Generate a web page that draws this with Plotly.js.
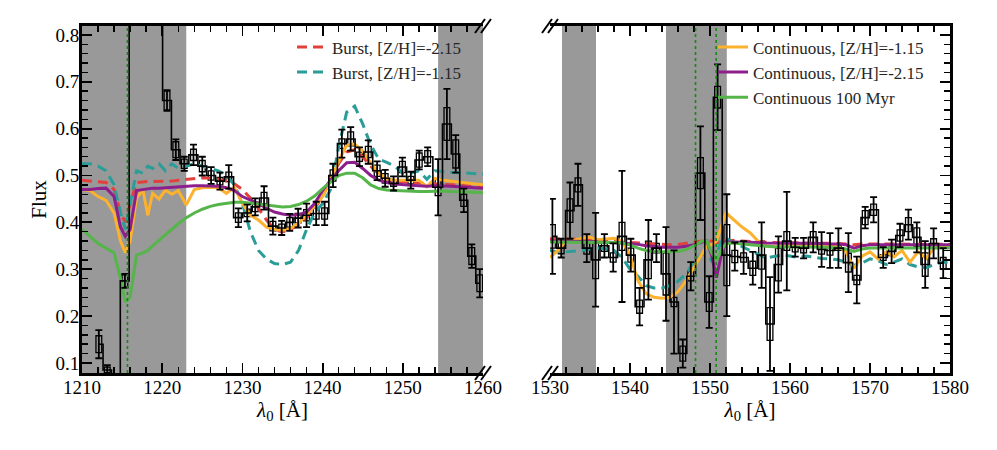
<!DOCTYPE html>
<html>
<head>
<meta charset="utf-8">
<script src="https://cdn.plot.ly/plotly-3.0.1.min.js"></script>
<style>html,body{margin:0;padding:0;background:#fff;}#chart{width:997px;height:450px;}</style>
</head>
<body>
<div id="chart"></div>
<script>
// ---------- Left panel (Lyman-alpha region) ----------
const leftWave = [1212.1,1213.15,1214.2,1215.35,1216.4,1217.45,1218.5,1219.5,1220.6,1221.7,1222.75,1223.9,1225.0,1226.1,1227.2,1228.3,1229.5,1230.6,1231.6,1232.7,1233.8,1234.9,1235.9,1236.95,1238.0,1239.2,1240.25,1241.3,1242.4,1243.5,1244.6,1245.7,1246.8,1247.8,1248.85,1249.95,1251.0,1252.05,1253.1,1254.4,1255.5,1256.6,1257.6,1258.6,1259.6];
const leftFlux = [0.14,0.085,0.06,0.275,0.95,1.05,1.0,0.9,0.66,0.555,0.525,0.544,0.52,0.50,0.488,0.497,0.41,0.42,0.433,0.452,0.392,0.388,0.40,0.409,0.415,0.419,0.419,0.50,0.568,0.578,0.54,0.55,0.51,0.494,0.483,0.518,0.49,0.533,0.54,0.475,0.61,0.546,0.447,0.328,0.27];
const leftErr  = [0.03,0.01,0.01,0.015,0,0,0,0,0.022,0.022,0.015,0.022,0.02,0.018,0.018,0.025,0.02,0.018,0.018,0.025,0.018,0.015,0.018,0.02,0.025,0.025,0.025,0.025,0.03,0.025,0.02,0.025,0.02,0.018,0.015,0.02,0.018,0.02,0.02,0.06,0.075,0.04,0.025,0.025,0.03];
const leftBox  = [0.018,0.006,0.006,0.013,0,0,0,0,0.02,0.017,0.01,0.012,0.012,0.01,0.008,0.01,0.01,0.008,0.01,0.012,0.01,0.008,0.01,0.01,0.012,0.012,0.012,0.012,0.01,0.015,0.01,0.012,0.012,0.01,0.006,0.012,0.008,0.015,0.013,0.018,0.035,0.03,0.013,0.018,0.018];

const leftModelWave = [1210,1211,1212,1213,1214,1214.8,1215.4,1216,1216.8,1217.6,1218.2,1218.8,1219.6,1220.4,1221.2,1222,1223,1224,1225,1226,1227,1228,1229,1230,1231,1232,1233,1234,1235,1236,1237,1238,1239,1240,1241,1242,1243,1244,1245,1246,1247,1248,1249,1250,1251,1252,1253,1254,1255,1256,1257,1258,1259,1260];
const leftBurstLow  = [0.49,0.488,0.487,0.485,0.47,0.42,0.40,0.44,0.485,0.487,0.487,0.487,0.487,0.488,0.488,0.49,0.492,0.494,0.495,0.494,0.492,0.488,0.482,0.47,0.452,0.43,0.405,0.385,0.38,0.385,0.395,0.41,0.43,0.455,0.49,0.525,0.55,0.555,0.54,0.52,0.503,0.492,0.488,0.486,0.485,0.484,0.483,0.482,0.481,0.48,0.479,0.478,0.477,0.476];
const leftBurstHigh = [0.525,0.525,0.52,0.51,0.48,0.42,0.385,0.44,0.51,0.505,0.52,0.515,0.525,0.51,0.525,0.515,0.52,0.525,0.52,0.515,0.51,0.50,0.48,0.44,0.38,0.34,0.322,0.312,0.31,0.315,0.34,0.385,0.42,0.44,0.47,0.56,0.635,0.648,0.61,0.565,0.535,0.528,0.52,0.505,0.505,0.51,0.492,0.51,0.508,0.507,0.506,0.505,0.504,0.503];
const leftContHigh  = [0.47,0.468,0.455,0.447,0.42,0.36,0.335,0.36,0.452,0.469,0.415,0.462,0.45,0.469,0.46,0.468,0.437,0.47,0.474,0.475,0.474,0.462,0.475,0.44,0.415,0.405,0.39,0.385,0.383,0.387,0.398,0.415,0.435,0.455,0.49,0.53,0.565,0.567,0.552,0.527,0.505,0.493,0.49,0.49,0.49,0.49,0.476,0.494,0.49,0.488,0.486,0.484,0.482,0.48];
const leftContLow   = [0.47,0.47,0.472,0.473,0.455,0.39,0.37,0.385,0.468,0.47,0.472,0.473,0.473,0.474,0.475,0.476,0.477,0.478,0.478,0.478,0.477,0.474,0.468,0.455,0.448,0.44,0.43,0.422,0.418,0.415,0.416,0.422,0.44,0.468,0.49,0.51,0.527,0.528,0.515,0.50,0.49,0.485,0.482,0.48,0.479,0.478,0.477,0.478,0.478,0.477,0.476,0.475,0.474,0.473];
const leftCont100   = [0.385,0.37,0.355,0.345,0.335,0.28,0.23,0.24,0.33,0.335,0.34,0.35,0.362,0.372,0.385,0.397,0.41,0.42,0.428,0.434,0.438,0.441,0.443,0.443,0.441,0.438,0.436,0.434,0.433,0.434,0.438,0.445,0.456,0.472,0.487,0.50,0.505,0.505,0.495,0.48,0.472,0.469,0.468,0.467,0.467,0.466,0.466,0.467,0.467,0.466,0.466,0.465,0.464,0.463];

// ---------- Right panel (C IV region) ----------
const rightWave = [1530.3,1531.4,1532.5,1533.5,1534.6,1535.7,1536.8,1537.9,1539.0,1540.1,1541.2,1542.3,1543.3,1544.5,1545.5,1546.6,1547.6,1548.8,1549.9,1550.95,1552.1,1553.1,1554.2,1555.35,1556.45,1557.5,1558.55,1559.6,1560.65,1561.7,1562.9,1563.95,1565.0,1566.05,1567.3,1568.35,1569.4,1570.45,1571.65,1572.7,1573.75,1574.8,1575.85,1576.9,1577.95,1579.15];
const rightFlux = [0.37,0.345,0.425,0.48,0.345,0.32,0.35,0.325,0.37,0.33,0.22,0.32,0.345,0.29,0.23,0.12,0.285,0.505,0.23,0.667,0.33,0.327,0.325,0.302,0.33,0.183,0.31,0.36,0.347,0.345,0.368,0.342,0.34,0.345,0.314,0.277,0.41,0.427,0.325,0.338,0.372,0.395,0.368,0.31,0.355,0.313];
const rightErr  = [0.08,0.02,0.06,0.045,0.03,0.1,0.025,0.03,0.14,0.035,0.04,0.085,0.03,0.1,0.11,0.03,0.03,0.1,0.055,0.07,0.13,0.03,0.035,0.035,0.07,0.1,0.06,0.105,0.02,0.022,0.032,0.037,0.037,0.042,0.063,0.05,0.023,0.027,0.022,0.025,0.025,0.032,0.032,0.05,0.032,0.032];
const rightBox  = [0.025,0.012,0.025,0.015,0.013,0.04,0.012,0.01,0.03,0.015,0.014,0.04,0.01,0.045,0.01,0.016,0.01,0.033,0.02,0.023,0.065,0.013,0.01,0.015,0.03,0.035,0.035,0.02,0.01,0.01,0.012,0.01,0.01,0.005,0.02,0.01,0.015,0.012,0.006,0.009,0.012,0.015,0.02,0.025,0.01,0.012];

const rightModelWave = [1530,1531,1532,1533,1534,1535,1536,1537,1538,1539,1540,1541,1542,1543,1544,1545,1546,1547,1548,1549,1549.6,1550.2,1550.8,1551.4,1552,1553,1554,1555,1556,1557,1558,1559,1560,1561,1562,1563,1564,1565,1566,1567,1568,1569,1570,1571,1572,1573,1574,1575,1576,1577,1578,1579,1580];
const rightBurstLow  = [0.365,0.365,0.364,0.364,0.363,0.362,0.361,0.36,0.359,0.358,0.357,0.356,0.354,0.353,0.352,0.352,0.353,0.355,0.358,0.36,0.362,0.36,0.356,0.36,0.362,0.361,0.36,0.359,0.358,0.357,0.357,0.356,0.356,0.356,0.356,0.355,0.355,0.355,0.355,0.354,0.352,0.354,0.354,0.354,0.354,0.354,0.354,0.353,0.353,0.353,0.353,0.353,0.353];
const rightBurstHigh = [0.34,0.337,0.337,0.338,0.34,0.343,0.345,0.343,0.34,0.325,0.30,0.285,0.265,0.26,0.26,0.265,0.274,0.29,0.315,0.333,0.33,0.318,0.33,0.362,0.366,0.357,0.348,0.34,0.332,0.324,0.327,0.33,0.328,0.325,0.328,0.325,0.323,0.322,0.32,0.315,0.308,0.313,0.322,0.318,0.31,0.315,0.322,0.31,0.305,0.303,0.31,0.315,0.315];
const rightContHigh  = [0.325,0.34,0.36,0.362,0.366,0.368,0.363,0.364,0.366,0.36,0.33,0.275,0.248,0.24,0.238,0.24,0.252,0.275,0.305,0.335,0.35,0.352,0.36,0.39,0.42,0.405,0.39,0.378,0.36,0.35,0.348,0.349,0.352,0.35,0.351,0.349,0.35,0.35,0.349,0.337,0.302,0.328,0.337,0.322,0.337,0.326,0.34,0.315,0.337,0.323,0.345,0.348,0.348];
const rightContLow   = [0.36,0.36,0.36,0.36,0.359,0.359,0.358,0.358,0.357,0.356,0.355,0.353,0.35,0.348,0.347,0.347,0.347,0.349,0.352,0.358,0.36,0.33,0.282,0.33,0.358,0.358,0.358,0.357,0.357,0.356,0.356,0.356,0.356,0.355,0.355,0.355,0.355,0.354,0.354,0.352,0.345,0.35,0.352,0.352,0.352,0.352,0.352,0.352,0.352,0.352,0.352,0.352,0.352];
const rightCont100   = [0.358,0.358,0.358,0.358,0.358,0.358,0.357,0.357,0.357,0.356,0.352,0.345,0.34,0.338,0.337,0.337,0.338,0.342,0.35,0.36,0.36,0.335,0.318,0.34,0.355,0.356,0.354,0.352,0.35,0.349,0.348,0.348,0.347,0.347,0.347,0.347,0.347,0.346,0.346,0.343,0.338,0.343,0.345,0.345,0.345,0.345,0.345,0.345,0.345,0.345,0.345,0.345,0.345];

// masked regions and line markers (wavelengths)
const leftMasks  = [[1210,1223.0],[1254.4,1260]];
const rightMasks = [[1531.5,1535.75],[1544.5,1552.1]];
const leftLines  = [1215.67];
const rightLines = [1548.19,1550.77];

const labels = {
  burstLow: 'Burst, [Z/H]=-2.15', burstHigh: 'Burst, [Z/H]=-1.15',
  contHigh: 'Continuous, [Z/H]=-1.15', contLow: 'Continuous, [Z/H]=-2.15', cont100: 'Continuous 100 Myr'
};
const colors = {red:'#e2403d', teal:'#2b9d98', orange:'#fdb22f', purple:'#8d1f8c', green:'#55b54a'};

function model(x, y, color, dash, name, xa, ya, legend, show){
  return {type:'scatter', mode:'lines', x:x, y:y, name:name, xaxis:xa, yaxis:ya,
    line:{color:color, width:3, dash:dash}, legend:legend, showlegend:show, hoverinfo:'skip'};
}
function boxes(x, f, b, xa, ya){
  return {type:'bar', x:x, base:f.map((v,i)=>v-b[i]), y:b.map(v=>2*v), width:0.72,
    xaxis:xa, yaxis:ya, showlegend:false, hoverinfo:'skip',
    marker:{color:'rgba(0,0,0,0)', line:{color:'black', width:1.3}}};
}
function steps(x, f, e, xa, ya){
  return {type:'scatter', mode:'lines', x:x, y:f, xaxis:xa, yaxis:ya, showlegend:false, hoverinfo:'skip',
    line:{shape:'hvh', color:'black', width:1.6},
    error_y:{type:'data', array:e, visible:true, color:'black', thickness:1.8, width:3.5}};
}

const dashLong = '10px,6px';
const traces = [
  model(leftModelWave, leftBurstLow, colors.red, dashLong, labels.burstLow, 'x', 'y', 'legend', true),
  model(leftModelWave, leftBurstHigh, colors.teal, dashLong, labels.burstHigh, 'x', 'y', 'legend', true),
  model(leftModelWave, leftContHigh, colors.orange, 'solid', labels.contHigh, 'x', 'y', 'legend2', true),
  model(leftModelWave, leftContLow, colors.purple, 'solid', labels.contLow, 'x', 'y', 'legend2', true),
  model(leftModelWave, leftCont100, colors.green, 'solid', labels.cont100, 'x', 'y', 'legend2', true),
  model(rightModelWave, rightBurstLow, colors.red, dashLong, labels.burstLow, 'x2', 'y2', 'legend', false),
  model(rightModelWave, rightBurstHigh, colors.teal, dashLong, labels.burstHigh, 'x2', 'y2', 'legend', false),
  model(rightModelWave, rightContHigh, colors.orange, 'solid', labels.contHigh, 'x2', 'y2', 'legend2', false),
  model(rightModelWave, rightContLow, colors.purple, 'solid', labels.contLow, 'x2', 'y2', 'legend2', false),
  model(rightModelWave, rightCont100, colors.green, 'solid', labels.cont100, 'x2', 'y2', 'legend2', false),
  boxes(leftWave, leftFlux, leftBox, 'x', 'y'),
  boxes(rightWave, rightFlux, rightBox, 'x2', 'y2'),
  steps(leftWave, leftFlux, leftErr, 'x', 'y'),
  steps(rightWave, rightFlux, rightErr, 'x2', 'y2')
];

const serif = 'Liberation Serif, DejaVu Serif, serif';
const L = 82, R = 47, T = 26, B = 77, W = 997, H = 450;
const pw = W - L - R, ph = H - T - B;
const leftRight = (483 - L) / pw, rightLeft = (550 - L) / pw;

function xAxis(domain, range, anchor, title){
  return {domain:domain, range:range, anchor:anchor, showline:true, linewidth:3, linecolor:'black',
    mirror:'ticks', ticks:'inside', ticklen:10, tickwidth:1.8, tickcolor:'black', dtick:10, tick0:0,
    minor:{ticks:'inside', ticklen:6, tickwidth:1.4, tickcolor:'black', dtick:2},
    showgrid:false, zeroline:false, tickfont:{family:serif, size:19, color:'black'},
    ticklabelstandoff:-5,
    title:{text:title, font:{family:serif, size:21, color:'black'}, standoff:6}};
}
function yAxis(anchor, side, labels, title){
  const a = {domain:[0,1], range:[0.0785,0.819], anchor:anchor, side:side, showline:true, linewidth:3,
    linecolor:'black', mirror:false, ticks:'inside', ticklen:10, tickwidth:1.8, tickcolor:'black',
    dtick:0.1, tick0:0, minor:{ticks:'inside', ticklen:6, tickwidth:1.4, tickcolor:'black', dtick:0.02},
    showgrid:false, zeroline:false, showticklabels:labels, ticklabelstandoff:-4,
    tickfont:{family:serif, size:19, color:'black'}};
  if (title) a.title = {text:title, font:{family:serif, size:21, color:'black'}, standoff:4};
  return a;
}

const shapes = [];
leftMasks.forEach(m => shapes.push({type:'rect', xref:'x', yref:'paper', x0:m[0], x1:m[1], y0:0, y1:1,
  fillcolor:'#999999', line:{width:0}, layer:'below'}));
rightMasks.forEach(m => shapes.push({type:'rect', xref:'x2', yref:'paper', x0:m[0], x1:m[1], y0:0, y1:1,
  fillcolor:'#999999', line:{width:0}, layer:'below'}));
leftLines.forEach(v => shapes.push({type:'line', xref:'x', yref:'paper', x0:v, x1:v, y0:0, y1:1,
  line:{color:'#138a13', width:1.6, dash:'dot'}}));
rightLines.forEach(v => shapes.push({type:'line', xref:'x2', yref:'paper', x0:v, x1:v, y0:0, y1:1,
  line:{color:'#138a13', width:1.6, dash:'dot'}}));
// axis-break marks
function px2paper(px, py){ return [(px - L) / pw, 1 - (py - T) / ph]; }
[[483, T], [483, T + ph], [550, T], [550, T + ph]].forEach(c => {
  [-3, 3].forEach(o => {
    const a = px2paper(c[0] + o - 5, c[1] + 7), b = px2paper(c[0] + o + 5, c[1] - 7);
    shapes.push({type:'line', xref:'paper', yref:'paper', x0:a[0], y0:a[1], x1:b[0], y1:b[1],
      line:{color:'black', width:2}});
  });
});

const layout = {
  width:W, height:H, margin:{l:L, r:R, t:T, b:B}, paper_bgcolor:'white', plot_bgcolor:'white',
  barmode:'overlay', showlegend:true,
  xaxis: xAxis([0, leftRight], [1210,1260], 'y', '<i>λ</i><sub>0</sub> [Å]'),
  yaxis: yAxis('x', 'left', true, 'Flux'),
  xaxis2: xAxis([rightLeft, 1], [1530,1580], 'y2', '<i>λ</i><sub>0</sub> [Å]'),
  yaxis2: yAxis('x2', 'right', false, null),
  legend:{x:(292 - L) / pw, y:0.99, xanchor:'left', yanchor:'top', bgcolor:'rgba(0,0,0,0)',
    font:{family:serif, size:17, color:'#262626'}, itemwidth:30, traceorder:'normal'},
  legend2:{x:(713 - L) / pw, y:0.99, xanchor:'left', yanchor:'top', bgcolor:'rgba(0,0,0,0)',
    font:{family:serif, size:17, color:'#262626'}, itemwidth:30, traceorder:'normal'},
  shapes:shapes
};

Plotly.newPlot('chart', traces, layout, {displayModeBar:false, staticPlot:true});
</script>
</body>
</html>
